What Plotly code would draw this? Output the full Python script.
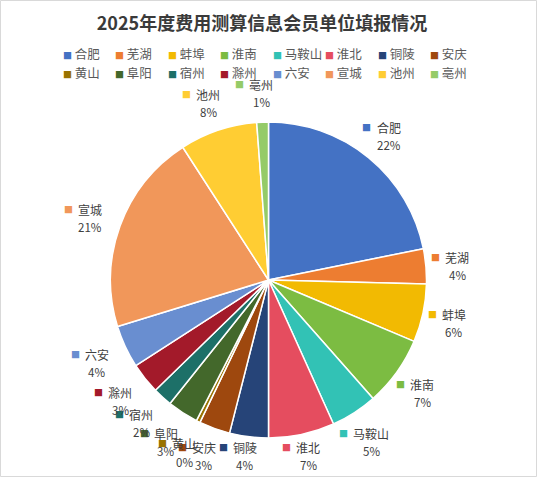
import math
import plotly.graph_objects as go

# ---- data ----
cities = ["合肥", "芜湖", "蚌埠", "淮南", "马鞍山", "淮北", "铜陵", "安庆",
          "黄山", "阜阳", "宿州", "滁州", "六安", "宣城", "池州", "亳州"]
counts = [55, 9, 15, 18, 12, 17, 10, 8, 1, 8, 5, 8, 11, 52, 20, 3]
colors = ["#4472C4", "#ED7D31", "#F2BA02", "#7CBC42", "#32C2B5", "#E54D5F",
          "#264478", "#9E480E", "#997300", "#43682B", "#1D7068", "#A31A2A",
          "#698ED0", "#F1975A", "#FFCD33", "#95CB68"]
title = "2025年度费用测算信息会员单位填报情况"

W, H = 537, 477
M_T, M_B = 122, 39
PLOT_H = H - M_T - M_B
FONT = "Noto Sans CJK SC"
TXT = "#404040"


def px2x(px):
    return px / W


def py2y(py):
    return (H - M_B - py) / PLOT_H


fig = go.Figure(go.Pie(
    labels=cities,
    values=counts,
    sort=False,
    direction="clockwise",
    rotation=0,
    marker=dict(colors=colors, line=dict(color="white", width=1.5)),
    textinfo="none",
    showlegend=False,
    automargin=False,
    hoverinfo="label+value+percent",
))

annotations = []

# data labels (Excel style: key square, category name, percent) placed
# just outside the pie along each slice's middle angle, kept inside the chart
cx, cy, r = W / 2, M_T + PLOT_H / 2, PLOT_H / 2
total = sum(counts)
cum = 0
for n, v, c in zip(cities, counts, colors):
    mid = (cum + v / 2) / total * 2 * math.pi
    cum += v
    lx = cx + 1.2 * r * math.sin(mid)
    ly = min(cy - 1.2 * r * math.cos(mid) + 3, H - 21)
    pct = f"{round(v / total * 100)}%"
    annotations.append(dict(x=px2x(lx), y=py2y(ly - 8.8), xref="paper", yref="paper",
                            xanchor="center", yanchor="middle", showarrow=False,
                            text=n, font=dict(family=FONT, size=12, color=TXT)))
    annotations.append(dict(x=px2x(lx), y=py2y(ly + 8.8), xref="paper", yref="paper",
                            xanchor="center", yanchor="middle", showarrow=False,
                            text=pct, font=dict(family=FONT, size=11.5, color=TXT)))
    annotations.append(dict(x=px2x(lx - len(n) * 6.3 - 9), y=py2y(ly - 8.8),
                            xref="paper", yref="paper",
                            xanchor="center", yanchor="middle", showarrow=False,
                            text="■", font=dict(family=FONT, size=9, color=c)))

# legend built from the categories (2 rows x 8 entries)
for i, (n, c) in enumerate(zip(cities, colors)):
    row, col = divmod(i, 8)
    px = 60.5 + 52.5 * col
    py = 54 + 18 * row
    annotations.append(dict(
        x=px2x(px), y=py2y(py), xref="paper", yref="paper",
        xanchor="left", yanchor="middle", showarrow=False,
        text=f"<span style='color:{c};font-size:9px'>■</span> {n}",
        font=dict(family=FONT, size=12.5, color="#595959"),
    ))

fig.update_layout(
    width=W, height=H,
    margin=dict(l=0, r=0, t=M_T, b=M_B, autoexpand=False),
    paper_bgcolor="white", plot_bgcolor="white",
    title=dict(text=f"<b>{title}</b>", x=262 / W, xanchor="center",
               y=1 - 24 / H, yanchor="middle",
               font=dict(family=FONT, size=18, color="#3A3A3A")),
    annotations=annotations,
    shapes=[dict(type="rect", xref="paper", yref="paper",
                 x0=px2x(0.5), x1=px2x(W - 0.5),
                 y0=py2y(H - 0.5), y1=py2y(0.5),
                 line=dict(color="#D9D9D9", width=1))],
)

fig.write_html("out.html", config={"displayModeBar": False},
               post_script="document.body.style.margin='0px';")
